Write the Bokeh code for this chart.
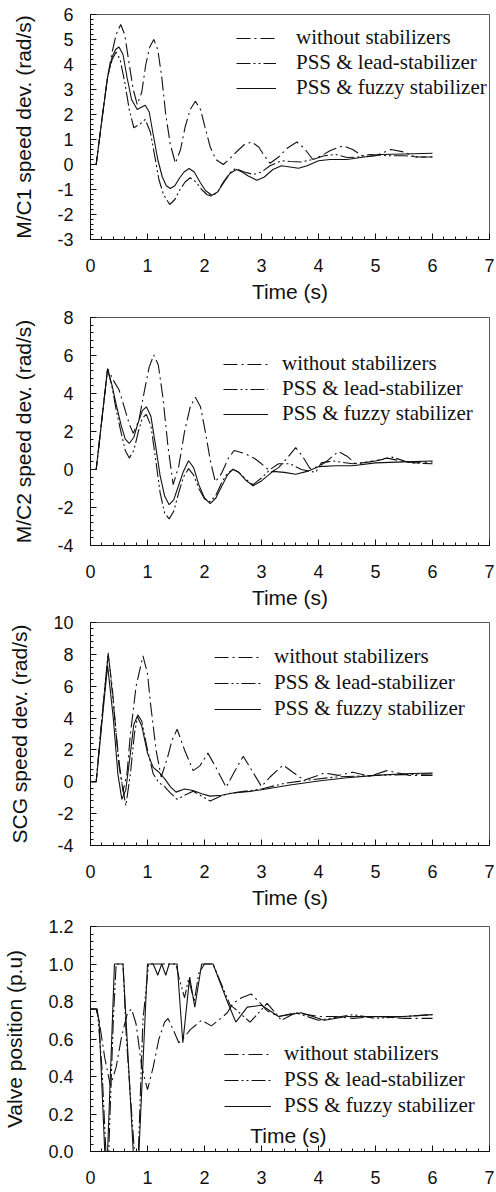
from bokeh.plotting import figure
from bokeh.layouts import column
from bokeh.models import (Range1d, SingleIntervalTicker, FixedTicker, PrintfTickFormatter,
                          Legend, LegendItem, Label)
from bokeh.embed import file_html
from bokeh.resources import INLINE

# ---------------- data ----------------
labels = ["without stabilizers", "PSS & lead-stabilizer", "PSS & fuzzy stabilizer"]

# Panel 1 : M/C1 speed deviation (rad/s)
m1_wo_t = [0, 0.1, 0.2, 0.3, 0.38, 0.45, 0.53, 0.6, 0.68, 0.75, 0.82, 0.9, 0.97, 1.04, 1.11, 1.18, 1.25, 1.32, 1.4, 1.49, 1.58, 1.66, 1.75, 1.84, 1.93, 2.02, 2.1, 2.2, 2.33, 2.45, 2.58, 2.7, 2.83, 2.95, 3.05, 3.15, 3.3, 3.45, 3.62, 3.75, 3.9, 4.05, 4.2, 4.43, 4.6, 4.8, 5.0, 5.27, 5.5, 5.7, 6.0]
m1_wo_v = [0, 0, 1.8, 3.5, 4.5, 5.2, 5.6, 5.2, 4.0, 3.0, 2.4, 2.9, 4.0, 4.7, 5.0, 4.6, 3.5, 2.0, 0.8, 0.05, 0.6, 1.5, 2.2, 2.53, 2.2, 1.4, 0.7, 0.2, 0.0, 0.25, 0.55, 0.8, 0.9, 0.7, 0.35, 0.05, 0.3, 0.65, 0.9, 0.65, 0.2, 0.35, 0.55, 0.75, 0.6, 0.3, 0.35, 0.6, 0.5, 0.3, 0.3]
m1_ld_t = [0, 0.1, 0.2, 0.3, 0.38, 0.45, 0.52, 0.6, 0.68, 0.76, 0.86, 0.96, 1.05, 1.13, 1.2, 1.28, 1.39, 1.48, 1.57, 1.66, 1.75, 1.85, 1.95, 2.04, 2.13, 2.23, 2.33, 2.44, 2.54, 2.7, 2.86, 3.0, 3.15, 3.35, 3.5, 3.7, 3.9, 4.1, 4.3, 4.5, 4.7, 4.9, 5.2, 5.5, 5.8, 6.0]
m1_ld_v = [0, 0, 1.8, 3.5, 4.2, 4.5, 4.2, 3.3, 2.2, 1.47, 1.6, 1.8, 1.3, 0.3, -0.6, -1.2, -1.6, -1.4, -1.0, -0.7, -0.53, -0.7, -1.0, -1.2, -1.27, -1.1, -0.7, -0.35, -0.16, -0.3, -0.4, -0.3, -0.05, 0.15, 0.12, 0.1, 0.2, 0.35, 0.4, 0.28, 0.3, 0.4, 0.35, 0.35, 0.3, 0.3]
m1_fz_t = [0, 0.1, 0.2, 0.3, 0.38, 0.44, 0.5, 0.57, 0.64, 0.72, 0.82, 0.9, 0.96, 1.03, 1.1, 1.18, 1.26, 1.33, 1.4, 1.48, 1.56, 1.64, 1.73, 1.82, 1.92, 2.02, 2.13, 2.23, 2.33, 2.45, 2.56, 2.66, 2.76, 2.92, 3.05, 3.2, 3.35, 3.5, 3.65, 3.8, 4.0, 4.2, 4.5, 4.8, 5.1, 5.5, 6.0]
m1_fz_v = [0, 0, 1.8, 3.5, 4.3, 4.6, 4.7, 4.4, 3.5, 2.6, 2.2, 2.3, 2.37, 2.1, 1.2, 0.2, -0.5, -0.85, -0.96, -0.85, -0.55, -0.3, -0.16, -0.3, -0.7, -1.05, -1.23, -1.1, -0.75, -0.35, -0.2, -0.3, -0.45, -0.63, -0.5, -0.2, -0.05, -0.1, -0.15, -0.05, 0.15, 0.2, 0.2, 0.3, 0.4, 0.42, 0.45]

# Panel 2 : M/C2 speed deviation (rad/s)
m2_wo_t = [0, 0.1, 0.3, 0.4, 0.5, 0.6, 0.68, 0.75, 0.85, 0.95, 1.03, 1.11, 1.19, 1.27, 1.36, 1.45, 1.55, 1.65, 1.75, 1.84, 1.93, 2.02, 2.1, 2.19, 2.3, 2.42, 2.52, 2.7, 2.88, 3.0, 3.17, 3.3, 3.45, 3.6, 3.72, 3.85, 4.0, 4.15, 4.35, 4.5, 4.65, 4.9, 5.2, 5.45, 5.7, 6.0]
m2_wo_v = [0, 0, 5.3, 4.7, 4.2, 3.2, 2.4, 1.9, 2.6, 4.2, 5.4, 6.03, 5.5, 3.8, 1.2, -0.8, 0.2, 2.0, 3.3, 3.8, 3.3, 1.9, 0.5, -0.65, -0.2, 0.6, 1.0, 0.85, 0.58, 0.3, -0.14, 0.1, 0.6, 1.15, 0.7, 0.05, 0.15, 0.45, 0.95, 0.7, 0.3, 0.4, 0.6, 0.45, 0.35, 0.4]
m2_ld_t = [0, 0.1, 0.3, 0.38, 0.46, 0.54, 0.61, 0.68, 0.76, 0.84, 0.91, 0.98, 1.06, 1.14, 1.22, 1.3, 1.38, 1.46, 1.55, 1.63, 1.72, 1.81, 1.9, 2.0, 2.1, 2.2, 2.3, 2.4, 2.5, 2.6, 2.72, 2.85, 3.0, 3.15, 3.3, 3.5, 3.7, 3.95, 4.05, 4.25, 4.6, 5.0, 5.3, 5.6, 6.0]
m2_ld_v = [0, 0, 5.3, 4.3, 3.0, 1.9, 1.0, 0.6, 1.0, 2.0, 2.7, 2.9, 2.3, 0.6, -1.2, -2.3, -2.6, -2.2, -1.2, -0.4, 0.05, -0.3, -1.0, -1.55, -1.7, -1.35, -0.7, -0.2, 0.0, -0.15, -0.5, -0.8, -0.45, 0.0, 0.3, 0.3, 0.0, -0.15, 0.35, 0.45, 0.3, 0.45, 0.65, 0.35, 0.3]
m2_fz_t = [0, 0.1, 0.3, 0.38, 0.46, 0.54, 0.61, 0.68, 0.76, 0.84, 0.91, 0.98, 1.06, 1.14, 1.22, 1.3, 1.38, 1.46, 1.55, 1.63, 1.72, 1.81, 1.9, 2.0, 2.1, 2.2, 2.3, 2.4, 2.5, 2.6, 2.72, 2.85, 3.0, 3.2, 3.4, 3.6, 3.8, 4.0, 4.3, 4.6, 5.0, 5.5, 6.0]
m2_fz_v = [0, 0, 5.3, 4.4, 3.3, 2.3, 1.6, 1.37, 1.7, 2.5, 3.1, 3.3, 2.8, 1.3, -0.3, -1.4, -1.85, -1.6, -0.8, -0.1, 0.46, 0.1, -0.8, -1.5, -1.8, -1.5, -0.9, -0.3, 0.02, -0.15, -0.55, -0.86, -0.6, -0.1, -0.15, -0.25, -0.1, 0.15, 0.2, 0.2, 0.35, 0.4, 0.45]

# Panel 3 : SCG speed deviation (rad/s)
scg_wo_t = [0, 0.1, 0.2, 0.31, 0.38, 0.45, 0.51, 0.57, 0.64, 0.7, 0.8, 0.92, 1.0, 1.05, 1.15, 1.24, 1.35, 1.43, 1.52, 1.65, 1.8, 1.92, 2.06, 2.2, 2.38, 2.52, 2.68, 2.85, 3.0, 3.15, 3.38, 3.55, 3.75, 3.95, 4.1, 4.35, 4.6, 4.9, 5.2, 5.6, 6.0]
scg_wo_v = [0, 0, 4.0, 8.0, 6.0, 3.0, 1.0, -0.6, 0.5, 3.0, 6.0, 7.9, 6.8, 5.0, 2.0, 0.3, 1.5, 2.6, 3.3, 2.0, 0.7, 1.0, 1.8, 0.9, -0.35, 0.6, 1.6, 0.6, -0.3, 0.3, 1.05, 0.6, 0.1, 0.35, 0.55, 0.4, 0.6, 0.35, 0.7, 0.4, 0.4]
scg_ld_t = [0, 0.1, 0.2, 0.31, 0.4, 0.5, 0.62, 0.7, 0.77, 0.83, 0.9, 1.0, 1.1, 1.2, 1.3, 1.4, 1.52, 1.65, 1.8, 1.95, 2.1, 2.25, 2.4, 2.6, 2.8, 3.0, 3.4, 3.8, 4.3, 5.0, 5.5, 6.0]
scg_ld_v = [0, 0, 4.0, 8.1, 5.0, 1.0, -1.5, 0.5, 3.0, 4.2, 3.8, 2.0, 0.5, -0.05, -0.3, -0.7, -1.1, -0.85, -0.6, -0.9, -1.2, -0.95, -0.75, -0.65, -0.55, -0.45, -0.1, 0.1, 0.3, 0.4, 0.45, 0.5]
scg_fz_t = [0, 0.1, 0.2, 0.3, 0.4, 0.48, 0.55, 0.62, 0.7, 0.76, 0.82, 0.9, 1.0, 1.1, 1.2, 1.3, 1.4, 1.5, 1.65, 1.8, 1.95, 2.1, 2.3, 2.5, 2.8, 3.0, 3.5, 4.0, 4.5, 5.0, 5.5, 6.0]
scg_fz_v = [0, 0, 3.7, 7.3, 4.0, 0.5, -1.1, -0.5, 1.8, 3.6, 4.1, 3.5, 1.8, 0.9, 0.6, 0.2, -0.3, -0.65, -0.45, -0.55, -0.75, -0.9, -0.85, -0.7, -0.6, -0.5, -0.2, 0.05, 0.25, 0.4, 0.5, 0.55]

# Panel 4 : valve position (p.u)
vp_wo_t = [0, 0.1, 0.15, 0.25, 0.35, 0.45, 0.55, 0.65, 0.72, 0.8, 0.9, 1.0, 1.1, 1.2, 1.3, 1.36, 1.45, 1.55, 1.62, 1.75, 1.95, 2.12, 2.25, 2.4, 2.5, 2.65, 2.82, 2.95, 3.1, 3.3, 3.6, 3.8, 4.0, 4.3, 4.6, 5.0, 5.5, 6.0]
vp_wo_v = [0.76, 0.76, 0.7, 0.5, 0.35, 0.45, 0.62, 0.74, 0.76, 0.68, 0.45, 0.33, 0.45, 0.6, 0.69, 0.71, 0.65, 0.58, 0.6, 0.65, 0.7, 0.67, 0.7, 0.74, 0.79, 0.82, 0.84, 0.8, 0.75, 0.72, 0.74, 0.73, 0.72, 0.72, 0.71, 0.72, 0.71, 0.71]
vp_ld_t = [0, 0.12, 0.2, 0.27, 0.32, 0.4, 0.45, 0.57, 0.63, 0.77, 0.84, 0.92, 1.02, 1.5, 1.55, 1.65, 1.72, 1.82, 1.9, 2.0, 2.15, 2.45, 2.5, 2.8, 3.1, 3.35, 3.6, 4.0, 4.6, 5.0, 5.5, 6.0]
vp_ld_v = [0.76, 0.76, 0.45, 0.0, 0.0, 0.7, 1.0, 1.0, 0.6, 0.0, 0.0, 0.7, 1.0, 1.0, 0.93, 0.82, 0.92, 0.8, 0.95, 1.0, 1.0, 0.78, 0.77, 0.69, 0.79, 0.7, 0.74, 0.7, 0.73, 0.71, 0.72, 0.73]
vp_fz_t = [0, 0.1, 0.15, 0.25, 0.3, 0.42, 0.57, 0.75, 0.85, 1.0, 1.1, 1.18, 1.25, 1.32, 1.38, 1.52, 1.62, 1.74, 1.83, 1.95, 2.15, 2.4, 2.55, 2.75, 3.0, 3.3, 3.7, 4.1, 4.5, 5.0, 5.5, 6.0]
vp_fz_v = [0.76, 0.76, 0.7, 0.0, 0.0, 1.0, 1.0, 0.0, 0.0, 1.0, 1.0, 0.94, 1.0, 0.94, 1.0, 1.0, 0.58, 0.93, 0.77, 1.0, 1.0, 0.8, 0.69, 0.77, 0.78, 0.72, 0.74, 0.7, 0.72, 0.72, 0.72, 0.73]

vp_ticks = [0.0, 0.2, 0.4, 0.6, 0.8, 1.0, 1.2]
vp_minor = [round(0.04 * i, 2) for i in range(31)]

# ---------------- styling ----------------
SANS = "Liberation Sans"
SERIF = "Liberation Serif"
DASHES = ["14 4 2 4", "14 3 2 3 2 3", "solid"]
INK = "#111111"


def make_panel(series, ylabel, y0, y1, yticker, fmt, top, frame_h, bottom,
               leg_x, leg_y, glyph_w, standoff, spacing, show_xlabel=True):
    p = figure(width=496, height=top + frame_h + bottom,
               x_range=Range1d(0, 7), y_range=Range1d(y0, y1),
               output_backend="svg", toolbar_location=None,
               min_border_left=89, min_border_right=7,
               min_border_top=top, min_border_bottom=bottom)
    p.xgrid.visible = False
    p.ygrid.visible = False
    p.outline_line_color = "#555555"
    p.outline_line_width = 1
    p.background_fill_color = "white"
    p.border_fill_color = "white"

    p.xaxis.ticker = SingleIntervalTicker(interval=1, num_minor_ticks=5)
    p.yaxis.ticker = yticker
    p.yaxis.formatter = PrintfTickFormatter(format=fmt)
    p.xaxis.formatter = PrintfTickFormatter(format="%d")
    for ax in (p.xaxis, p.yaxis):
        ax.axis_line_color = INK
        ax.major_tick_line_color = INK
        ax.minor_tick_line_color = INK
        ax.major_tick_in = 6
        ax.major_tick_out = 0
        ax.minor_tick_in = 3
        ax.minor_tick_out = 0
        ax.major_label_text_font = SANS
        ax.major_label_text_font_size = "18px"
        ax.major_label_text_color = INK
        ax.axis_label_text_font = SANS
        ax.axis_label_text_font_size = "21px"
        ax.axis_label_text_font_style = "normal"
        ax.axis_label_text_color = INK
    p.xaxis.major_label_standoff = 19
    p.yaxis.major_label_standoff = 17
    p.yaxis.axis_label = ylabel
    p.yaxis.axis_label_standoff = 19
    if show_xlabel:
        p.xaxis.axis_label = "Time (s)"
        p.xaxis.axis_label_standoff = 5

    items = []
    for (t, v), lab, dash in zip(series, labels, DASHES):
        r = p.line(t, v, line_color=INK, line_width=1.1, line_dash=dash)
        items.append(LegendItem(label=lab, renderers=[r]))
    leg = Legend(items=items, location=(leg_x, leg_y))
    leg.label_text_font = SERIF
    leg.label_text_font_size = "21px"
    leg.label_text_color = INK
    leg.glyph_width = glyph_w
    leg.glyph_height = 20
    leg.label_height = 20
    leg.label_standoff = standoff
    leg.spacing = spacing
    leg.padding = 0
    leg.margin = 0
    leg.border_line_alpha = 0
    leg.background_fill_alpha = 0
    p.add_layout(leg)
    return p


p1 = make_panel([(m1_wo_t, m1_wo_v), (m1_ld_t, m1_ld_v), (m1_fz_t, m1_fz_v)],
                "M/C1 speed dev. (rad/s)", -3, 6,
                SingleIntervalTicker(interval=1, num_minor_ticks=5), "%d",
                14, 225, 69, 146, 139, 40, 20, -2)
p2 = make_panel([(m2_wo_t, m2_wo_v), (m2_ld_t, m2_ld_v), (m2_fz_t, m2_fz_v)],
                "M/C2 speed dev. (rad/s)", -4, 8,
                SingleIntervalTicker(interval=2, num_minor_ticks=5), "%d",
                9, 228, 68, 133, 119, 45, 14, 0)
p3 = make_panel([(scg_wo_t, scg_wo_v), (scg_ld_t, scg_ld_v), (scg_fz_t, scg_fz_v)],
                "SCG speed dev. (rad/s)", -4, 10,
                SingleIntervalTicker(interval=2, num_minor_ticks=5), "%d",
                9, 223, 72, 124, 124, 47, 13, 1)
p4 = make_panel([(vp_wo_t, vp_wo_v), (vp_ld_t, vp_ld_v), (vp_fz_t, vp_fz_v)],
                "Valve position (p.u)", 0, 1.2,
                FixedTicker(ticks=vp_ticks, minor_ticks=vp_minor), "%.1f",
                9, 225, 41, 134, 33, 47, 13, 1, show_xlabel=False)
p4.add_layout(Label(x=3.47, y=0.085, text="Time (s)", text_align="center",
                    text_baseline="middle", text_font=SANS,
                    text_font_size="21px", text_color=INK))

layout = column(p1, p2, p3, p4, spacing=0)
open("out.html", "w").write(file_html(layout, INLINE))
